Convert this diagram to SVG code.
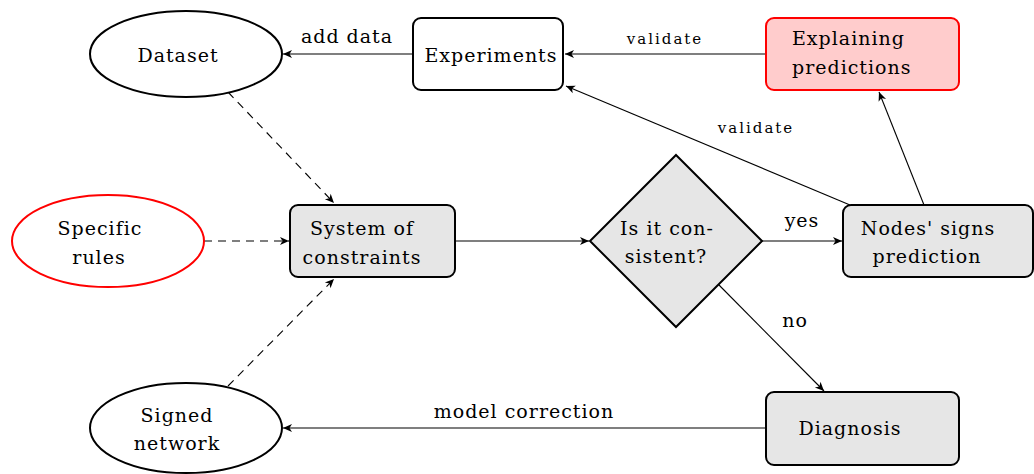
<svg xmlns="http://www.w3.org/2000/svg" width="1034" height="474" viewBox="0 0 1034 474">
<style>
text{font-family:"DejaVu Serif",serif;font-size:19px;letter-spacing:1px;fill:#000}
.c{text-anchor:middle}
.s{font-size:15px;letter-spacing:2px}
.box{fill:#e6e6e6;stroke:#000;stroke-width:2}
.wbox{fill:#fff;stroke:#000;stroke-width:2}
.red{fill:#ffcccc;stroke:#ff0000;stroke-width:2}
.ell{fill:#fff;stroke:#000;stroke-width:2}
.rell{fill:#fff;stroke:#ff0000;stroke-width:2}
.edge{fill:none;stroke:#000;stroke-width:1.1;marker-end:url(#ah)}
.dash{stroke-dasharray:8 6}
</style>
<defs>
<marker id="ah" markerUnits="userSpaceOnUse" viewBox="-10 -5 11 10" refX="0" refY="0" markerWidth="11" markerHeight="10" orient="auto">
<path d="M0,0 L-9,-4 L-6.5,0 L-9,4 Z" fill="#000"/>
</marker>
</defs>
<g id="connectors">
<line class="edge" x1="413" y1="54" x2="283" y2="54"/>
<line class="edge" x1="766" y1="54" x2="565" y2="54"/>
<line class="edge" x1="850" y1="205" x2="566" y2="86"/>
<line class="edge" x1="924" y1="205" x2="879" y2="92"/>
<line class="edge dash" x1="228" y1="92" x2="334" y2="203"/>
<line class="edge dash" x1="204" y1="241" x2="289" y2="241"/>
<line class="edge dash" x1="228" y1="386" x2="334" y2="279"/>
<line class="edge" x1="455" y1="241" x2="589" y2="241"/>
<line class="edge" x1="762" y1="241" x2="842" y2="241"/>
<line class="edge" x1="718" y1="284" x2="824" y2="391"/>
<line class="edge" x1="766" y1="428" x2="283" y2="428"/>
<text class="c" x="347" y="43">add data</text>
<text class="c s" x="665" y="44">validate</text>
<text class="c s" x="756" y="133">validate</text>
<text class="c" x="802" y="227">yes</text>
<text class="c" x="795" y="327">no</text>
<text class="c" x="524" y="418">model correction</text>
</g>
<g id="dataset">
<ellipse class="ell" cx="186" cy="54" rx="96" ry="43"/>
<text class="c" x="178" y="62">Dataset</text>
</g>
<g id="experiments">
<rect class="wbox" x="413" y="18" width="150" height="72" rx="8"/>
<text class="c" x="491" y="62">Experiments</text>
</g>
<g id="explaining">
<rect class="red" x="766" y="18" width="193" height="72" rx="8"/>
<text x="792" y="45">Explaining</text>
<text x="792" y="74">predictions</text>
</g>
<g id="specific-rules">
<ellipse class="rell" cx="108" cy="241" rx="96" ry="46"/>
<text class="c" x="100" y="235">Specific</text>
<text class="c" x="99" y="264">rules</text>
</g>
<g id="system">
<rect class="box" x="290" y="205" width="165" height="72" rx="8"/>
<text class="c" x="362" y="235">System of</text>
<text class="c" x="362" y="264">constraints</text>
</g>
<g id="consistent">
<polygon class="box" points="676,155 762,241 676,327 590,241"/>
<text class="c" x="667" y="235">Is it con-</text>
<text class="c" x="666" y="263">sistent?</text>
</g>
<g id="nodes-signs">
<rect class="box" x="843" y="205" width="190" height="72" rx="8"/>
<text class="c" x="928" y="235">Nodes' signs</text>
<text class="c" x="927" y="263">prediction</text>
</g>
<g id="signed-network">
<ellipse class="ell" cx="186" cy="428" rx="96" ry="45"/>
<text class="c" x="177" y="422">Signed</text>
<text class="c" x="177" y="450">network</text>
</g>
<g id="diagnosis">
<rect class="box" x="766" y="392" width="193" height="73" rx="8"/>
<text class="c" x="850" y="435">Diagnosis</text>
</g>
</svg>
